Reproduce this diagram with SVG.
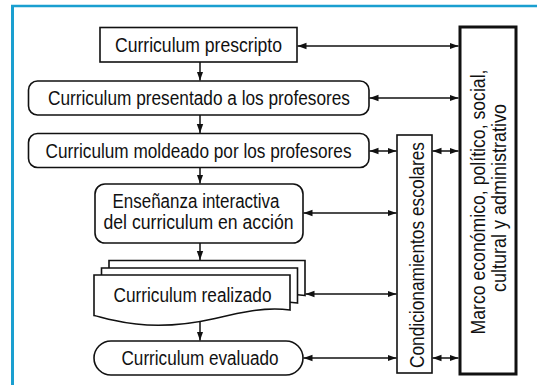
<svg xmlns="http://www.w3.org/2000/svg" width="537" height="385" viewBox="0 0 537 385">
<style>
.box{fill:#fff;stroke:#111;stroke-width:1.6}
.thick{fill:#fff;stroke:#111;stroke-width:3}
.t{font-family:"Liberation Sans",Arial,sans-serif;font-size:19.5px;fill:#111;text-anchor:middle}
.c{stroke:#111;stroke-width:1.5;fill:none}
</style>
<defs>
<marker id="ah" markerUnits="userSpaceOnUse" markerWidth="10" markerHeight="8" refX="9" refY="4" orient="auto-start-reverse">
<path d="M0,0.8 L9,4 L0,7.2 Z" fill="#111"/>
</marker>
</defs>
<rect width="537" height="385" fill="#fff"/>
<g id="frame" stroke="#1a9fd0" fill="none">
<line x1="11" y1="6" x2="537" y2="6" stroke-width="2.5"/>
<line x1="12.5" y1="5" x2="12.5" y2="385" stroke-width="3"/>
</g>
<g id="n1">
<rect class="box" x="100" y="27.5" width="197" height="34.5"/>
<text class="t" x="198.5" y="51.5" textLength="167" lengthAdjust="spacingAndGlyphs">Curriculum prescripto</text>
</g>
<g id="n2">
<rect class="box" x="28.5" y="81" width="340.5" height="34" rx="9"/>
<text class="t" x="199" y="104.5" textLength="302" lengthAdjust="spacingAndGlyphs">Curriculum presentado a los profesores</text>
</g>
<g id="n3">
<rect class="box" x="28.5" y="133.5" width="340.5" height="34" rx="9"/>
<text class="t" x="198.5" y="157.5" textLength="306" lengthAdjust="spacingAndGlyphs">Curriculum moldeado por los profesores</text>
</g>
<g id="n4">
<rect class="box" x="95" y="184" width="208" height="59" rx="10"/>
<text class="t" x="196" y="207.5" textLength="167" lengthAdjust="spacingAndGlyphs">Enseñanza interactiva</text>
<text class="t" x="198.5" y="229" textLength="190" lengthAdjust="spacingAndGlyphs">del curriculum en acción</text>
</g>
<g id="n5">
<path class="box" d="M109,260.5 H305 V295.5 C280,292 255,298 230,304 C195,312 160,313 130,306 C120,304 114,302 109,301 Z"/>
<path class="box" d="M101.5,268 H297.5 V303 C272,299.5 247,305.5 222,311.5 C187,319.5 152,320.5 122,313.5 C112,311.5 106,309.5 101.5,308.5 Z"/>
<path class="box" d="M94,275 H290 V310 C265,306.5 240,312.5 215,318.5 C180,326.5 145,327.5 115,320.5 C105,318.5 99,316.5 94,315.5 Z"/>
<text class="t" x="192.5" y="302" textLength="158" lengthAdjust="spacingAndGlyphs">Curriculum realizado</text>
</g>
<g id="n6">
<rect class="box" x="94" y="341" width="209" height="34" rx="17"/>
<text class="t" x="200" y="365" textLength="157" lengthAdjust="spacingAndGlyphs">Curriculum evaluado</text>
</g>
<g id="n7">
<rect class="box" x="397" y="135" width="35" height="238"/>
<text class="t" transform="translate(423.5,255) rotate(-90)" textLength="226" lengthAdjust="spacingAndGlyphs">Condicionamientos escolares</text>
</g>
<g id="n8">
<rect class="thick" x="460" y="27" width="56" height="347"/>
<text class="t" transform="translate(484.5,202) rotate(-90)" textLength="265" lengthAdjust="spacingAndGlyphs">Marco económico, político, social,</text>
<text class="t" transform="translate(506,198) rotate(-90)" textLength="188" lengthAdjust="spacingAndGlyphs">cultural y administrativo</text>
</g>
<g id="connectors">
<line class="c" x1="200" y1="62" x2="200" y2="80.5" marker-end="url(#ah)"/>
<line class="c" x1="200" y1="115" x2="200" y2="133" marker-end="url(#ah)"/>
<line class="c" x1="200" y1="167.5" x2="200" y2="183.5" marker-end="url(#ah)"/>
<line class="c" x1="200" y1="243" x2="200" y2="260" marker-end="url(#ah)"/>
<line class="c" x1="200" y1="322" x2="200" y2="340.5" marker-end="url(#ah)"/>
<line class="c" x1="297.5" y1="46" x2="458.5" y2="46" marker-start="url(#ah)" marker-end="url(#ah)"/>
<line class="c" x1="369.5" y1="98" x2="458.5" y2="98" marker-start="url(#ah)" marker-end="url(#ah)"/>
<line class="c" x1="369.5" y1="151" x2="396.5" y2="151" marker-start="url(#ah)" marker-end="url(#ah)"/>
<line class="c" x1="432.5" y1="151" x2="458.5" y2="151" marker-start="url(#ah)" marker-end="url(#ah)"/>
<line class="c" x1="303.5" y1="213" x2="396.5" y2="213" marker-start="url(#ah)" marker-end="url(#ah)"/>
<line class="c" x1="305.5" y1="294" x2="396.5" y2="294" marker-start="url(#ah)" marker-end="url(#ah)"/>
<line class="c" x1="303.5" y1="358" x2="396.5" y2="358" marker-start="url(#ah)" marker-end="url(#ah)"/>
<line class="c" x1="432.5" y1="358" x2="458.5" y2="358" marker-start="url(#ah)" marker-end="url(#ah)"/>
</g>
</svg>
